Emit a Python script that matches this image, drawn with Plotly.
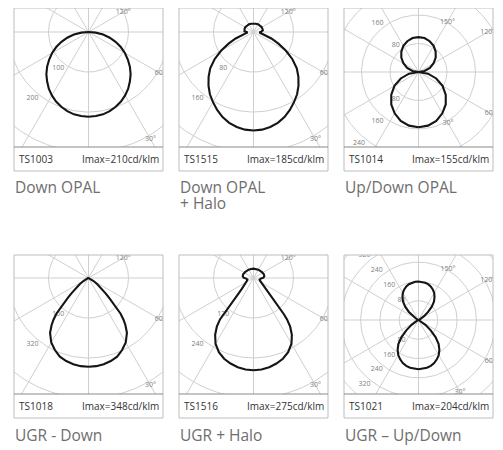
import numpy as np
import plotly.graph_objects as go

# ---- data ------------------------------------------------------------------
CODES = ["TS1003", "TS1515", "TS1014", "TS1018", "TS1516", "TS1021"]
IMAX = [210, 185, 155, 348, 275, 204]
NAMES = ["Down OPAL", "Down OPAL<br>+ Halo", "Up/Down OPAL",
         "UGR - Down", "UGR + Halo", "UGR – Up/Down"]

# intensity (cd/klm) against angle from nadir, one half of the C0-C180 plane
ANG_1 = [0, 5, 10, 15, 20, 25, 30, 35, 40, 45, 50, 55, 60, 65, 70, 75, 80, 85, 90]
CD_1 = [212, 211, 209, 205, 199, 192, 183, 173, 161, 149, 135, 120, 105, 89, 72,
        55, 37, 18, 0]

ANG_2 = [0, 5, 10, 15, 20, 25, 30, 35, 40, 45, 50, 55, 60, 65, 70, 75, 80, 85,
         90, 95, 100, 110, 120, 135, 150, 165, 180]
CD_2 = [197, 196, 193, 188, 181, 172, 162, 152, 140, 127, 113, 95, 75, 55, 38,
        25, 16, 12, 14, 18, 19, 19, 19, 18, 18, 17, 17]

ANG_3 = [0, 10, 20, 30, 40, 50, 60, 70, 80, 90,
         100, 110, 120, 130, 140, 150, 160, 170, 180]
CD_3 = [155, 153, 146, 134, 119, 100, 78, 53, 27, 0,
        17, 34, 49, 63, 75, 85, 92, 97, 98]

ANG_4 = [0, 5, 10, 15, 20, 25, 30, 35, 38, 40, 42, 44, 46, 48, 50, 55, 60, 65,
         70, 80, 90]
CD_4 = [355, 354, 350, 344, 335, 318, 298, 268, 240, 218, 191, 150, 115, 92, 75,
        42, 22, 12, 6, 2, 0]

ANG_5 = [0, 5, 10, 15, 20, 25, 30, 34, 37, 39, 40, 41, 42, 44, 47, 50, 55, 60,
         66, 75, 85, 92, 100, 110, 125, 150, 165, 180]
CD_5 = [277, 276, 272, 266, 258, 246, 228, 206, 183, 160, 142, 115, 88, 65, 48,
        38, 30, 26, 22, 19, 22, 30, 33, 33, 31, 29, 28, 28]

ANG_6 = [0, 5, 10, 15, 20, 25, 30, 35, 40, 45, 50, 55, 60, 70, 80, 90,
         100, 110, 115, 120, 125, 130, 135, 140, 145, 150, 155, 160, 165, 170,
         175, 180]
CD_6 = [204, 203, 201, 197, 190, 180, 168, 151, 130, 100, 65, 35, 15, 4, 1, 0,
        1, 3, 6, 12, 28, 52, 78, 100, 116, 130, 140, 148, 154, 157, 159, 160]

RINGS = [
    [100, 200, 300, 400],
    [80, 160, 240, 320],
    [80, 160, 240, 320],
    [160, 320, 480],
    [120, 240, 360],
    [80, 160, 240, 320, 400],
]

CURVES = [(ANG_1, CD_1), (ANG_2, CD_2), (ANG_3, CD_3),
          (ANG_4, CD_4), (ANG_5, CD_5), (ANG_6, CD_6)]

# ---- layout (page pixels; the page body adds an 8px margin) ------------------
PAGE_W, PAGE_H, BODY = 503, 450, 8
W, H = PAGE_W - BODY, PAGE_H - BODY
COL_X = [14, 179, 344]
ROW_Y = [8, 255]
BOX_W, PLOT_H, FOOT_H = 149, 139, 24
LABEL_Y = [187, 435]
LINE_GAP = 16

# px per cd, vertical offset of the lamp centre inside the box
SCALE = [0.4, 0.5, 0.356, 0.25, 0.333, 0.241]
CY_OFF = [24, 24, 64, 23, 23, 65]
UPDOWN = [False, False, True, False, False, True]
ANGLE_LABELS = [
    [("30°", 30, 124), ("60°", 60, 83), ("120°", 120, 40)],
    [("30°", 30, 124), ("60°", 60, 83), ("120°", 120, 40)],
    [("30°", 30, 59), ("60°", 60, 83), ("120°", 120, 80), ("150°", 150, 58)],
    [("30°", 30, 124), ("60°", 60, 83), ("120°", 120, 40)],
    [("30°", 30, 124), ("60°", 60, 83), ("120°", 120, 40)],
    [("30°", 30, 83), ("60°", 60, 83), ("120°", 120, 80), ("150°", 150, 59)],
]

GRID = "#cfcfcf"
SMALL = dict(family="Open Sans", size=7, color="#808080")


def px(x):
    return (x - BODY) / W


def py(y):
    return 1 - (y - BODY) / H


fig = go.Figure()
annotations = []
shapes = []

for i in range(6):
    row, col = divmod(i, 3)
    n = i + 1
    xa, ya = ("x", "y") if n == 1 else (f"x{n}", f"y{n}")
    left, top = COL_X[col], ROW_Y[row]
    s = SCALE[i]
    cy = CY_OFF[i]

    # grid rings
    t = np.linspace(0, 2 * np.pi, 181)
    for rv in RINGS[i]:
        fig.add_trace(go.Scatter(
            x=rv * np.cos(t), y=rv * np.sin(t), mode="lines",
            line=dict(color=GRID, width=1), hoverinfo="skip",
            showlegend=False, xaxis=xa, yaxis=ya))
    # radial lines every 30 degrees
    big = 400 / s
    for a in range(0, 360, 30):
        ar = np.radians(a)
        fig.add_trace(go.Scatter(
            x=[0, big * np.sin(ar)], y=[0, -big * np.cos(ar)], mode="lines",
            line=dict(color=GRID, width=1), hoverinfo="skip",
            showlegend=False, xaxis=xa, yaxis=ya))

    # ring and angle labels
    off = 7 / s
    k = np.radians(40)
    lx, ly, lt = [], [], []
    for rv in RINGS[i]:
        lx.append(-(rv + off) * np.sin(k))
        ly.append(-(rv + off) * np.cos(k))
        lt.append(str(rv))
        if UPDOWN[i]:
            lx.append(-(rv + off) * np.sin(k))
            ly.append((rv + off) * np.cos(k))
            lt.append(str(rv))
    for txt, a, rp in ANGLE_LABELS[i]:
        ar = np.radians(a)
        lx.append(rp / s * np.sin(ar))
        ly.append(-rp / s * np.cos(ar))
        lt.append(txt)
    fig.add_trace(go.Scatter(
        x=lx, y=ly, text=lt, mode="text", textfont=SMALL, cliponaxis=True,
        hoverinfo="skip", showlegend=False, xaxis=xa, yaxis=ya))

    # luminous intensity curve, mirrored for the two half planes
    ang, cd = CURVES[i]
    th = np.radians(np.array(ang, dtype=float))
    r = np.array(cd, dtype=float)
    xr, yr = r * np.sin(th), -r * np.cos(th)
    fig.add_trace(go.Scatter(
        x=np.concatenate([xr, -xr[::-1]]), y=np.concatenate([yr, yr[::-1]]),
        mode="lines", line=dict(color="#151515", width=2.1),
        hoverinfo="skip", showlegend=False, xaxis=xa, yaxis=ya))

    x0, x1 = px(left), px(left + BOX_W)
    y1, y0 = py(top), py(top + PLOT_H)
    axis_common = dict(showgrid=False, zeroline=False, showticklabels=False,
                       ticks="", showline=False, fixedrange=True)
    fig.update_layout({
        ("xaxis" if n == 1 else f"xaxis{n}"): dict(
            domain=[x0, x1], range=[-74.5 / s, 74.5 / s],
            anchor=ya, **axis_common),
        ("yaxis" if n == 1 else f"yaxis{n}"): dict(
            domain=[y0, min(y1, 1)], range=[-(PLOT_H - cy) / s, cy / s],
            anchor=xa, **axis_common),
    })

    # frame and footer
    fb = top + PLOT_H + FOOT_H
    shapes.append(dict(type="rect", xref="paper", yref="paper",
                       x0=x0, x1=x1, y0=py(fb), y1=min(y1, 1),
                       line=dict(color="#bdbdbd", width=1)))
    shapes.append(dict(type="line", xref="paper", yref="paper",
                       x0=x0, x1=x1, y0=y0, y1=y0,
                       line=dict(color="#8a8a8a", width=1.2)))
    fy = py(top + PLOT_H + FOOT_H / 2)
    annotations.append(dict(
        text=CODES[i], x=px(left + 3), y=fy, xref="paper", yref="paper",
        xanchor="left", yanchor="middle", showarrow=False,
        font=dict(family="Open Sans", size=10, color="#333333")))
    annotations.append(dict(
        text=f"Imax={IMAX[i]}cd/klm", x=px(left + BOX_W - 2), y=fy,
        xref="paper", yref="paper", xanchor="right", yanchor="middle",
        showarrow=False, font=dict(family="Open Sans", size=10, color="#333333")))
    for j, line in enumerate(NAMES[i].split("<br>")):
        annotations.append(dict(
            text=line, x=px(left - 1), y=py(LABEL_Y[row] + j * LINE_GAP),
            xref="paper", yref="paper", xanchor="left", yanchor="middle",
            showarrow=False,
            font=dict(family="Open Sans", size=15.5, color="#6e6e6e")))

fig.update_layout(
    width=W, height=H, margin=dict(l=0, r=0, t=0, b=0),
    paper_bgcolor="white", plot_bgcolor="white",
    annotations=annotations, shapes=shapes,
)
fig.write_html("out.html")
